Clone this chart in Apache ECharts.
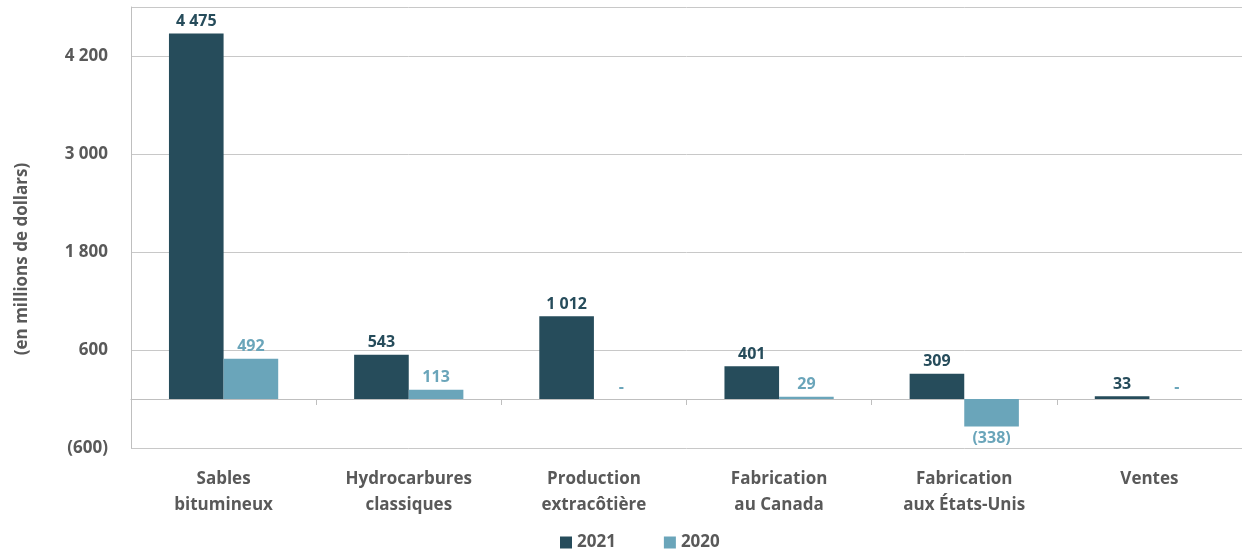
<!DOCTYPE html>
<html>
<head>
<meta charset="utf-8">
<script src="https://cdn.jsdelivr.net/npm/echarts@6/dist/echarts.min.js"></script>
<style>html,body{margin:0;padding:0;background:#fff}#c{width:1242px;height:550px}</style>
</head>
<body>
<div id="c"></div>
<script>
const categories = ['Sables\nbitumineux', 'Hydrocarbures\nclassiques', 'Production\nextracôtière', 'Fabrication\nau Canada', 'Fabrication\naux États-Unis', 'Ventes'];
const values2021 = [4475, 543, 1012, 401, 309, 33];
const values2020 = [492, 113, 0, 29, -338, 0];
const yTicks = [-600, 600, 1800, 3000, 4200];
const yTitle = '(en millions de dollars)';

function fmt(v) {
  if (v === 0) return '-';
  const s = Math.abs(v).toString().replace(/\B(?=(\d{3})+(?!\d))/g, ' ');
  return v < 0 ? '(' + s + ')' : s;
}
const FONT = 'Open Sans';
const C21 = '#264c5b', C20 = '#6aa5ba';
function seriesData(arr) {
  return arr.map(v => ({ value: v, label: { position: v < 0 ? 'bottom' : 'top' } }));
}
const chart = echarts.init(document.getElementById('c'));
chart.setOption({
  animation: false,
  textStyle: { fontFamily: FONT },
  grid: { left: 131, top: 7, width: 1116, height: 441, containLabel: false },
  graphic: [{
    type: 'text', x: 22, y: 259, rotation: Math.PI / 2,
    style: { text: yTitle, fontFamily: FONT, fontWeight: 'bold', fontSize: 17, fill: '#595959', align: 'center', verticalAlign: 'middle' }
  }],
  legend: {
    top: 529, left: 555, itemWidth: 12, itemHeight: 12, itemGap: 48,
    icon: 'rect',
    textStyle: { fontFamily: FONT, fontWeight: 'bold', fontSize: 17, color: '#595959' },
    data: ['2021', '2020']
  },
  xAxis: [
    {
      type: 'category', data: categories, position: 'bottom',
      axisLine: { show: false, onZero: false }, axisTick: { show: false },
      axisLabel: { fontFamily: FONT, fontWeight: 'bold', fontSize: 17, color: '#595959', lineHeight: 26, margin: 18 }
    },
    {
      type: 'category', data: categories, position: 'top',
      axisLine: { show: true, onZero: true, lineStyle: { color: '#bfbfbf', width: 1 } },
      axisTick: { show: true, inside: true, length: 6, lineStyle: { color: '#bfbfbf' } },
      axisLabel: { show: false }
    }
  ],
  yAxis: {
    type: 'value', min: -600, max: 4800, interval: 1200,
    axisLine: { show: true, lineStyle: { color: '#bfbfbf' } },
    axisTick: { show: false },
    splitLine: { show: true, lineStyle: { color: '#c8c8c8', width: 1 } },
    axisLabel: {
      showMaxLabel: false, margin: 23,
      fontFamily: FONT, fontWeight: 'bold', fontSize: 17, color: '#595959',
      formatter: v => yTicks.includes(v) ? fmt(v) : ''
    }
  },
  series: [
    {
      name: '2021', type: 'bar', xAxisIndex: 0, data: seriesData(values2021),
      barGap: '0%', barCategoryGap: '41%',
      itemStyle: { color: C21 },
      label: { show: true, distance: 4, formatter: p => fmt(p.value), fontFamily: FONT, fontWeight: 'bold', fontSize: 16, color: C21 }
    },
    {
      name: '2020', type: 'bar', xAxisIndex: 0, data: seriesData(values2020),
      barGap: '0%', barCategoryGap: '41%',
      itemStyle: { color: C20 },
      label: { show: true, distance: 4, formatter: p => fmt(p.value), fontFamily: FONT, fontWeight: 'bold', fontSize: 16, color: C20 }
    }
  ]
});
</script>
</body>
</html>
